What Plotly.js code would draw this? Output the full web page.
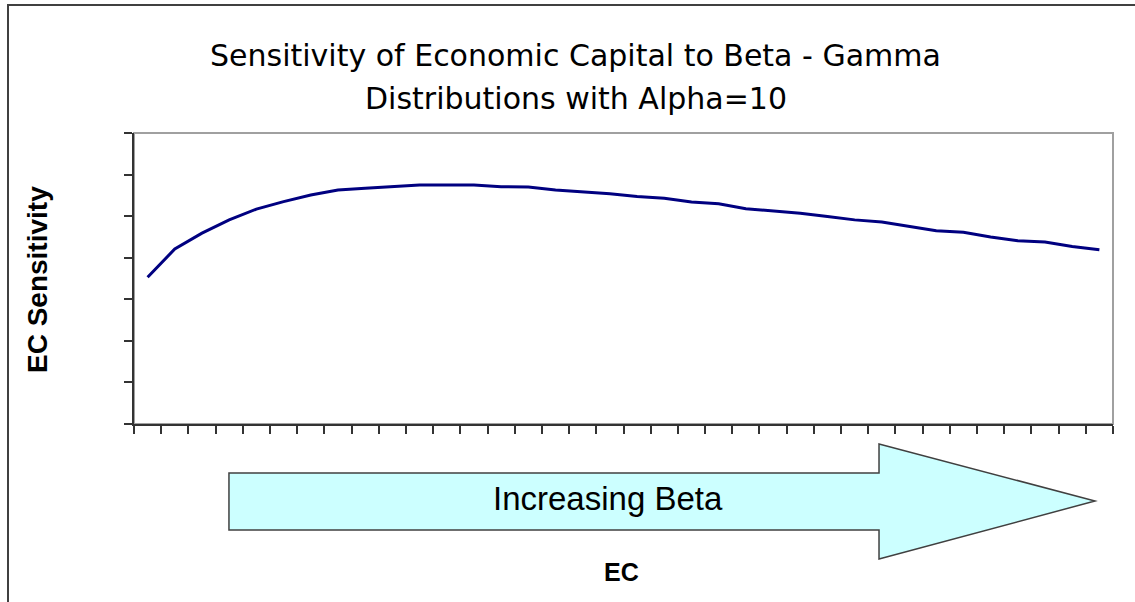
<!DOCTYPE html>
<html>
<head>
<meta charset="utf-8">
<script src="https://cdn.plot.ly/plotly-3.0.1.min.js"></script>
<style>html,body{margin:0;padding:0;background:#fff;}#chart{width:1135px;height:602px;}</style>
</head>
<body>
<div id="chart"></div>
<script>
// Beta steps (category index along the x axis)
const betaSteps = [1,2,3,4,5,6,7,8,9,10,11,12,13,14,15,16,17,18,19,20,21,22,23,24,25,26,27,28,29,30,31,32,33,34,35,36];
// EC sensitivity (arbitrary units, axis unlabeled in the original)
const ecSensitivity = [3.53,4.21,4.59,4.91,5.17,5.35,5.51,5.63,5.67,5.71,5.75,5.75,5.75,5.71,5.70,5.63,5.59,5.54,5.47,5.43,5.34,5.30,5.18,5.13,5.07,4.99,4.91,4.86,4.75,4.65,4.61,4.50,4.41,4.38,4.27,4.19];
const yTicks = [0,1,2,3,4,5,6,7];
const xTickBounds = [0.5,1.5,2.5,3.5,4.5,5.5,6.5,7.5,8.5,9.5,10.5,11.5,12.5,13.5,14.5,15.5,16.5,17.5,18.5,19.5,20.5,21.5,22.5,23.5,24.5,25.5,26.5,27.5,28.5,29.5,30.5,31.5,32.5,33.5,34.5,35.5,36.5];
const titleLine1 = "Sensitivity of Economic Capital to Beta - Gamma";
const titleLine2 = "Distributions with Alpha=10";
const yTitle = "EC Sensitivity";
const xTitle = "EC";
const arrowText = "Increasing Beta";

const FONT = '"Liberation Sans", Arial, sans-serif';
const TITLE_FONT = '"DejaVu Sans", "Liberation Sans", Arial, sans-serif';

const trace = {
  x: betaSteps,
  y: ecSensitivity,
  type: 'scatter',
  mode: 'lines',
  line: {color: '#000080', width: 3},
  hoverinfo: 'skip',
  showlegend: false
};

const layout = {
  width: 1135,
  height: 602,
  margin: {l: 134, r: 22, t: 133, b: 178, pad: 0},
  paper_bgcolor: '#ffffff',
  plot_bgcolor: '#ffffff',
  font: {family: FONT, color: '#000'},
  showlegend: false,
  xaxis: {
    range: [0.5, 36.5],
    tickmode: 'array',
    tickvals: xTickBounds,
    showticklabels: false,
    ticks: 'outside',
    ticklen: 8,
    tickwidth: 2,
    tickcolor: '#333',
    showgrid: false,
    zeroline: false,
    showline: true,
    linecolor: '#333',
    linewidth: 2,
    fixedrange: true
  },
  yaxis: {
    range: [0, 7],
    tickmode: 'array',
    tickvals: yTicks,
    showticklabels: false,
    ticks: 'outside',
    ticklen: 8,
    tickwidth: 2,
    tickcolor: '#333',
    showgrid: false,
    zeroline: false,
    showline: true,
    linecolor: '#333',
    linewidth: 2,
    fixedrange: true
  },
  shapes: [
    // outer chart-area border
    {type: 'rect', xref: 'paper', yref: 'paper', x0: -0.1287, x1: 1.05, y0: -0.7, y1: 1.4399,
     line: {color: '#404040', width: 2}, fillcolor: 'rgba(0,0,0,0)', layer: 'below'},
    // plot area border (gray)
    {type: 'rect', xref: 'paper', yref: 'paper', x0: 0, x1: 1, y0: 0, y1: 1,
     line: {color: '#a0a0a0', width: 2}, fillcolor: 'rgba(0,0,0,0)', layer: 'below'},
    // "Increasing Beta" block arrow
    {type: 'path', xref: 'paper', yref: 'paper',
     path: 'M 0.0970,-0.1684 L 0.7610,-0.1684 L 0.7610,-0.0687 L 0.9816,-0.2646 L 0.7610,-0.4639 L 0.7610,-0.3643 L 0.0970,-0.3643 Z',
     fillcolor: '#CCFFFF', line: {color: '#404040', width: 1.5}, layer: 'above'}
  ],
  annotations: [
    {text: titleLine1, xref: 'paper', yref: 'paper', x: 0.451, y: 1.265, xanchor: 'center', yanchor: 'middle',
     showarrow: false, font: {family: TITLE_FONT, size: 30, color: '#000'}},
    {text: titleLine2, xref: 'paper', yref: 'paper', x: 0.451, y: 1.117, xanchor: 'center', yanchor: 'middle',
     showarrow: false, font: {family: TITLE_FONT, size: 30, color: '#000'}},
    {text: '<b>' + yTitle + '</b>', xref: 'paper', yref: 'paper', x: -0.098, y: 0.495, xanchor: 'center', yanchor: 'middle',
     textangle: -90, showarrow: false, font: {family: FONT, size: 28, color: '#000'}},
    {text: '<b>' + xTitle + '</b>', xref: 'paper', yref: 'paper', x: 0.498, y: -0.509, xanchor: 'center', yanchor: 'middle',
     showarrow: false, font: {family: FONT, size: 25, color: '#000'}},
    {text: arrowText, xref: 'paper', yref: 'paper', x: 0.484, y: -0.255, xanchor: 'center', yanchor: 'middle',
     showarrow: false, font: {family: FONT, size: 33, color: '#000'}}
  ]
};

Plotly.newPlot('chart', [trace], layout, {displayModeBar: false, staticPlot: true});
</script>
</body>
</html>
